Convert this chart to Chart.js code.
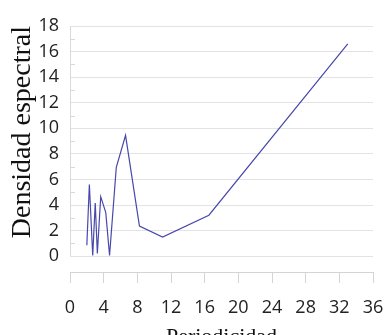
<!DOCTYPE html>
<html lang="es">
<head>
    <meta charset="UTF-8">
    <title>Densidad espectral</title>
    <script src="https://cdn.jsdelivr.net/npm/chart.js"></script>
    <style>
        html, body {
            margin: 0;
            padding: 0;
            background: #ffffff;
            overflow: hidden;
        }

        .chart-box {
            position: relative;
            width: 384px;
            height: 348px;
        }
    </style>
</head>
<body>
    <div class="chart-box">
        <canvas id="espectro"></canvas>
    </div>

    <script>
        // Periodograma: periodo vs densidad espectral
        const periodos = [2.0, 2.3, 2.7, 3.0, 3.25, 3.65, 4.25, 4.7, 5.5, 6.6, 8.25, 11, 16.5, 33];
        const densidad = [0.85, 5.6, 0.05, 4.15, 0.2, 4.65, 3.4, 0.05, 6.95, 9.45, 2.35, 1.5, 3.2, 16.6];

        const yTicks = [0, 1, 2, 3, 4, 5, 6, 7, 8, 9, 10, 11, 12, 13, 14, 15, 16, 17, 18];
        const xMax = 36;
        const xStep = 4;

        const puntos = periodos.map((p, i) => ({ x: p, y: densidad[i] }));

        // eje vertical y marcas menores (valores impares) dibujados con la escala y
        const ejeY = {
            id: 'ejeY',
            beforeDatasetsDraw(chart) {
                const { ctx, scales } = chart;
                const y = scales.y;
                const left = chart.chartArea.left;
                ctx.save();
                ctx.strokeStyle = '#d9d9d9';
                ctx.lineWidth = 1;
                ctx.beginPath();
                ctx.moveTo(left + 0.5, y.getPixelForValue(yTicks[yTicks.length - 1]));
                ctx.lineTo(left + 0.5, y.getPixelForValue(0));
                yTicks.filter(v => v % 2 === 1).forEach(v => {
                    const py = Math.round(y.getPixelForValue(v)) + 0.5;
                    ctx.moveTo(left, py);
                    ctx.lineTo(left + 5, py);
                });
                ctx.stroke();
                ctx.restore();
            }
        };

        new Chart(document.getElementById('espectro'), {
            type: 'scatter',
            data: {
                datasets: [{
                    data: puntos,
                    showLine: true,
                    borderColor: '#4848ac',
                    borderWidth: 1.2,
                    pointRadius: 0,
                    tension: 0
                }]
            },
            options: {
                responsive: true,
                maintainAspectRatio: false,
                animation: false,
                layout: {
                    padding: { top: 26, right: 11, left: 1, bottom: 0 }
                },
                plugins: {
                    legend: { display: false },
                    tooltip: { enabled: false }
                },
                scales: {
                    x: {
                        type: 'linear',
                        min: 0,
                        max: xMax,
                        afterFit(s) {
                            s.height = 76;
                            s.paddingLeft = 0;
                            s.paddingRight = 0;
                        },
                        ticks: {
                            stepSize: xStep,
                            padding: 14,
                            maxRotation: 0,
                            color: '#222222',
                            font: { family: 'Open Sans', size: 18 }
                        },
                        grid: {
                            drawOnChartArea: false,
                            drawTicks: true,
                            tickLength: 11,
                            color: '#d4d4d4'
                        },
                        border: { display: true, color: '#d4d4d4' },
                        title: {
                            display: true,
                            text: 'Periodicidad',
                            color: '#111111',
                            padding: { top: 4, bottom: -2 },
                            font: { family: 'Liberation Serif', size: 22 }
                        }
                    },
                    y: {
                        min: -1.24,
                        max: 18,
                        afterBuildTicks(scale) {
                            scale.ticks = yTicks.map(v => ({ value: v }));
                        },
                        afterFit(s) {
                            s.width = 69;
                            s.paddingTop = 0;
                            s.paddingBottom = 0;
                        },
                        ticks: {
                            padding: 11,
                            color: '#222222',
                            font: { family: 'Open Sans', size: 18 },
                            callback: v => (v % 2 === 0 ? v : '')
                        },
                        grid: {
                            drawTicks: false,
                            color: ctx => (ctx.tick && ctx.tick.value % 2 === 0 ? '#e3e3e3' : 'rgba(0,0,0,0)')
                        },
                        border: { display: false },
                        title: {
                            display: true,
                            text: 'Densidad espectral',
                            align: 'end',
                            color: '#111111',
                            padding: { top: 5, bottom: 0 },
                            font: { family: 'Liberation Serif', size: 28 }
                        }
                    }
                }
            },
            plugins: [ejeY]
        });
    </script>
</body>
</html>
